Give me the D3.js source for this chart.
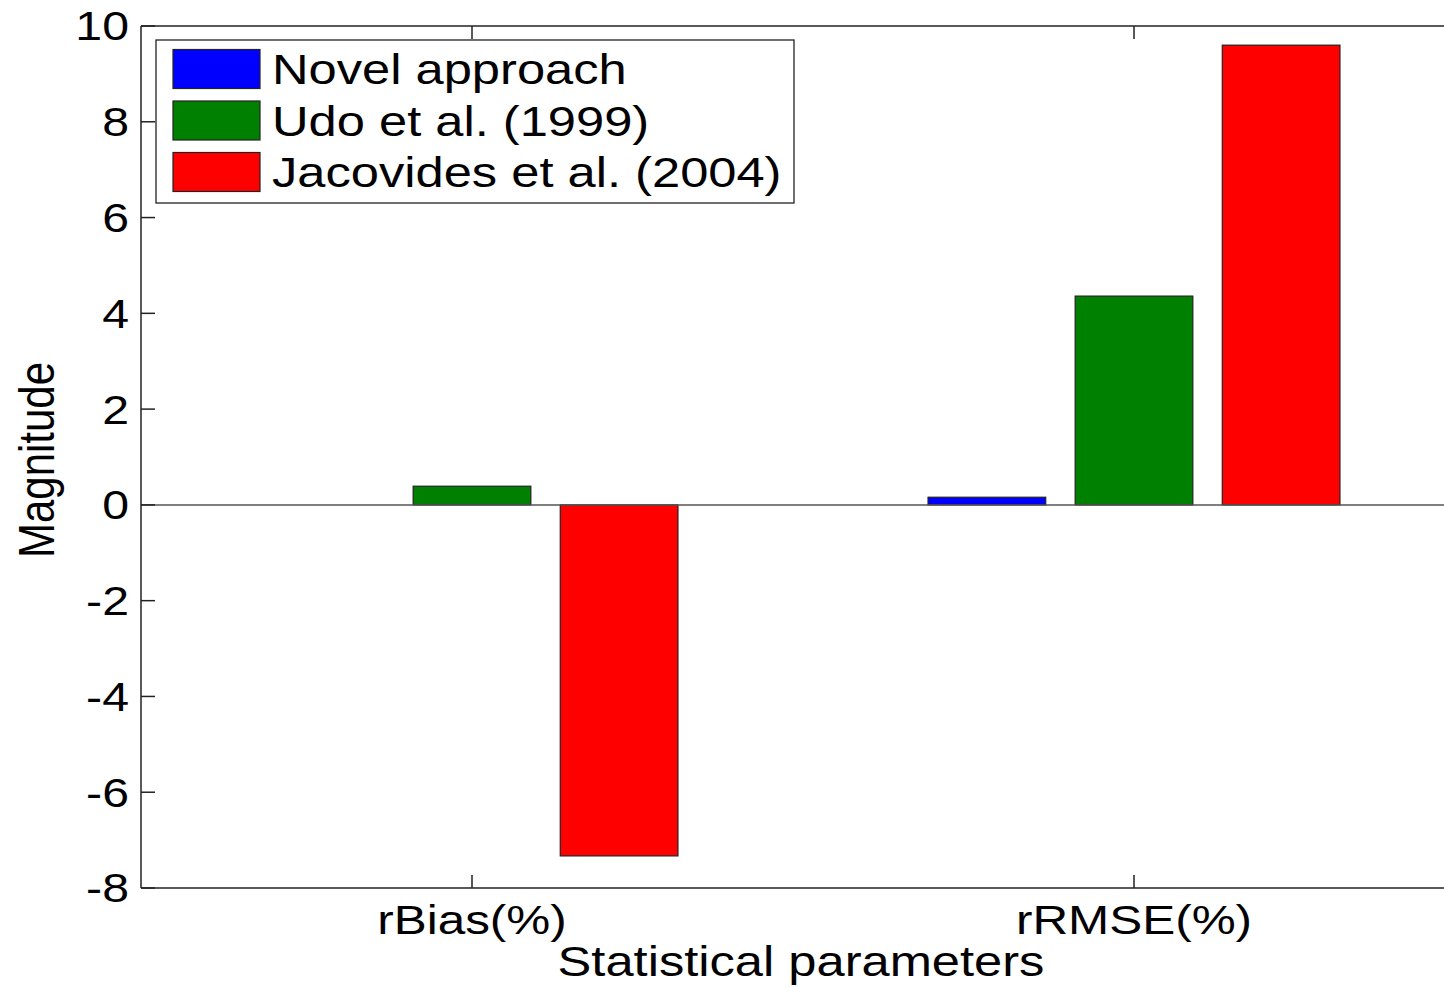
<!DOCTYPE html>
<html>
<head>
<meta charset="utf-8">
<script src="https://cdn.jsdelivr.net/npm/d3@7"></script>
<style>
  body { margin: 0; background: #fff; }
  text { font-family: "Liberation Sans", Arial, sans-serif; fill: #000; }
</style>
</head>
<body>
<div class="chart"></div>
<script>
// data
const categories = ["rBias(%)", "rRMSE(%)"];
const seriesNames = ["Novel approach", "Udo et al. (1999)", "Jacovides et al. (2004)"];
const novel = [0, 0.16];
const udo = [0.39, 4.36];
const jacovides = [-7.33, 9.6];
const yTicks = [-8, -6, -4, -2, 0, 2, 4, 6, 8, 10];
const colors = ["#0000ff", "#008000", "#ff0000"];

const seriesValues = [novel, udo, jacovides];
const W = 1444, H = 987;
const sx = 1.206; // picture is stretched horizontally
const margin = ({top: 26, left: 141, bottom: 888, right: 1465});

const svg = d3.select(".chart")
  .append("svg")
  .attr("width", W)
  .attr("height", H);

const yScale = d3.scaleLinear()
  .domain([-8, 10])
  .range([margin.bottom, margin.top]);

const x0 = d3.scaleBand()
  .domain(categories)
  .range([margin.left, margin.right])
  .padding(0);

const gw = x0.bandwidth() / 3;
const x1 = d3.scaleBand()
  .domain(seriesNames)
  .range([-gw, gw])
  .paddingInner(0.2)
  .paddingOuter(0.1);

// bars
const rows = [];
categories.forEach((c, i) => {
  seriesNames.forEach((s, j) => rows.push({cat: c, series: s, value: seriesValues[j][i], color: colors[j]}));
});

svg.append("g")
  .selectAll("rect")
  .data(rows)
  .join("rect")
  .attr("x", d => x0(d.cat) + x0.bandwidth() / 2 + x1(d.series))
  .attr("width", x1.bandwidth())
  .attr("y", d => yScale(Math.max(0, d.value)))
  .attr("height", d => Math.abs(yScale(d.value) - yScale(0)))
  .attr("fill", d => d.color)
  .attr("stroke", "#222")
  .attr("stroke-width", 1.2);

// zero baseline
svg.append("line")
  .attr("x1", margin.left).attr("x2", margin.right)
  .attr("y1", yScale(0)).attr("y2", yScale(0))
  .attr("stroke", "#555")
  .attr("stroke-width", 1.5);

// axes box
const axisCol = "#222";
svg.append("line")
  .attr("x1", margin.left).attr("x2", margin.right)
  .attr("y1", margin.top).attr("y2", margin.top)
  .attr("stroke", axisCol).attr("stroke-width", 1.5);
svg.append("line")
  .attr("x1", margin.left).attr("x2", margin.right)
  .attr("y1", margin.bottom).attr("y2", margin.bottom)
  .attr("stroke", axisCol).attr("stroke-width", 1.5);
svg.append("line")
  .attr("x1", margin.left).attr("x2", margin.left)
  .attr("y1", margin.top).attr("y2", margin.bottom)
  .attr("stroke", axisCol).attr("stroke-width", 1.5);

// y ticks (inward) and labels
const yAxis = svg.append("g");
yAxis.selectAll("line")
  .data(yTicks)
  .join("line")
  .attr("x1", margin.left).attr("x2", margin.left + 14)
  .attr("y1", d => yScale(d)).attr("y2", d => yScale(d))
  .attr("stroke", axisCol).attr("stroke-width", 1.5);
yAxis.selectAll("text")
  .data(yTicks)
  .join("text")
  .attr("transform", d => `translate(129,${yScale(d)}) scale(${sx},1)`)
  .attr("dy", "0.36em")
  .attr("text-anchor", "end")
  .attr("font-size", 40)
  .text(d => d);

// x ticks top and bottom (inward)
const xAxis = svg.append("g");
categories.forEach(c => {
  const cx = x0(c) + x0.bandwidth() / 2;
  xAxis.append("line")
    .attr("x1", cx).attr("x2", cx)
    .attr("y1", margin.bottom).attr("y2", margin.bottom - 13)
    .attr("stroke", axisCol).attr("stroke-width", 1.5);
  xAxis.append("line")
    .attr("x1", cx).attr("x2", cx)
    .attr("y1", margin.top).attr("y2", margin.top + 13)
    .attr("stroke", axisCol).attr("stroke-width", 1.5);
  xAxis.append("text")
    .attr("transform", `translate(${cx},934) scale(${sx},1)`)
    .attr("text-anchor", "middle")
    .attr("font-size", 41)
    .text(c);
});

// axis titles
svg.append("text")
  .attr("transform", `translate(801,976) scale(${sx},1)`)
  .attr("text-anchor", "middle")
  .attr("font-size", 42)
  .text("Statistical parameters");

svg.append("text")
  .attr("transform", `translate(54,460) scale(${sx},1) rotate(-90)`)
  .attr("text-anchor", "middle")
  .attr("font-size", 42)
  .text("Magnitude");

// legend
const legend = svg.append("g");
legend.append("rect")
  .attr("x", 156).attr("y", 40)
  .attr("width", 638).attr("height", 163)
  .attr("fill", "#fff")
  .attr("stroke", axisCol).attr("stroke-width", 1.3);

const legY = d3.scalePoint()
  .domain(seriesNames)
  .range([69, 172]);

seriesNames.forEach((s, j) => {
  legend.append("rect")
    .attr("x", 173).attr("y", legY(s) - 19.5)
    .attr("width", 87).attr("height", 39)
    .attr("fill", colors[j])
    .attr("stroke", "#222").attr("stroke-width", 1.2);
  legend.append("text")
    .attr("transform", `translate(272,${legY(s)}) scale(${sx},1)`)
    .attr("dy", "0.36em")
    .attr("font-size", 42)
    .text(s);
});
</script>
</body>
</html>
